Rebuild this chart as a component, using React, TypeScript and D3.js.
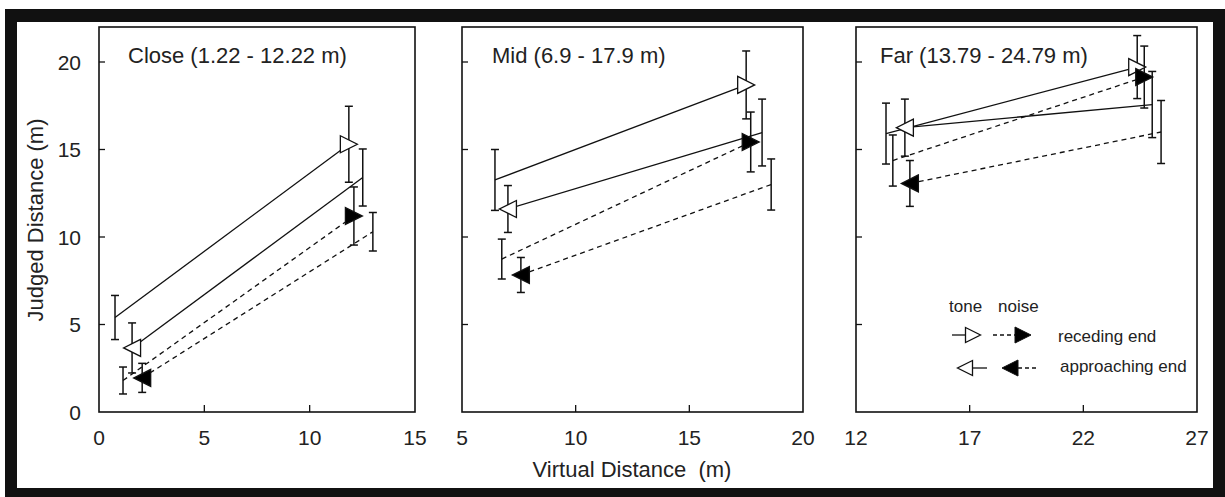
import React from "react";
import * as d3 from "d3";

const panelTitles = ["Close (1.22 - 12.22 m)", "Mid (6.9 - 17.9 m)", "Far (13.79 - 24.79 m)"];
const xDomains: [number, number][] = [[0, 15], [5, 20], [12, 27]];
const xTickValues = [[0, 5, 10, 15], [5, 10, 15, 20], [12, 17, 22, 27]];
const yTickValues = [0, 5, 10, 15, 20];
const yDomain: [number, number] = [0, 22];

// each row (one per panel): [xStart, yStart, errStart, xEnd, yEnd, errEnd]
const toneReceding = [
  [0.76, 5.4, 1.26, 11.86, 15.3, 2.17],
  [6.45, 13.26, 1.74, 17.5, 18.69, 1.94],
  [13.32, 15.91, 1.74, 24.37, 19.71, 1.8],
];
const toneApproaching = [
  [1.57, 3.66, 1.43, 12.52, 13.4, 1.63],
  [7.02, 11.6, 1.34, 18.2, 15.97, 1.91],
  [14.15, 16.25, 1.63, 25.03, 17.57, 1.89],
];
const noiseReceding = [
  [1.14, 1.8, 0.77, 12.1, 11.2, 1.66],
  [6.75, 8.74, 1.14, 17.7, 15.43, 1.71],
  [13.62, 14.37, 1.46, 24.68, 19.14, 1.77],
];
const noiseApproaching = [
  [2.05, 1.95, 0.83, 13.0, 10.3, 1.1],
  [7.59, 7.83, 1.0, 18.6, 13.0, 1.46],
  [14.37, 13.06, 1.31, 25.42, 16.0, 1.8],
];

const legendHeader = ["tone", "noise"];
const legendLabels = ["receding end", "approaching end"];

const W = 1225;
const H = 497;
const panelLeft = [99, 462, 856];
const panelRight = [415, 803, 1197];
const titleOffset = [29, 30, 24];
const plotTop = 27;
const plotBottom = 412;
const FONT = "'Liberation Sans', Arial, Helvetica, sans-serif";
const TXT = "#222";

type Series = { data: number[][]; dashed: boolean; filled: boolean; markerAtEnd: boolean; dir: 1 | -1 };
const seriesList: Series[] = [
  { data: toneReceding, dashed: false, filled: false, markerAtEnd: true, dir: 1 },
  { data: toneApproaching, dashed: false, filled: false, markerAtEnd: false, dir: -1 },
  { data: noiseReceding, dashed: true, filled: true, markerAtEnd: true, dir: 1 },
  { data: noiseApproaching, dashed: true, filled: true, markerAtEnd: false, dir: -1 },
];

function triPath(cx: number, cy: number, dir: number, w: number, h: number) {
  const b = cx - (dir * w) / 2;
  const t = cx + (dir * w) / 2;
  return `M${b},${cy - h / 2}L${t},${cy}L${b},${cy + h / 2}Z`;
}

function Panel({ i }: { i: number }) {
  const x = d3.scaleLinear().domain(xDomains[i]).range([panelLeft[i], panelRight[i]]);
  const y = d3.scaleLinear().domain(yDomain).range([plotBottom, plotTop]);
  const line = d3.line<[number, number]>().x((d) => x(d[0])).y((d) => y(d[1]));
  const cap = 4;
  return (
    <g>
      <rect x={panelLeft[i]} y={plotTop} width={panelRight[i] - panelLeft[i]} height={plotBottom - plotTop}
        fill="none" stroke="#111" strokeWidth={1.6} />
      {yTickValues.slice(1).map((t) => (
        <line key={"yt" + t} x1={panelLeft[i]} x2={panelLeft[i] + 6} y1={y(t)} y2={y(t)} stroke="#111" strokeWidth={1.3} />
      ))}
      {xTickValues[i].slice(1, -1).map((t) => (
        <line key={"xt" + t} x1={x(t)} x2={x(t)} y1={plotBottom} y2={plotBottom - 7} stroke="#111" strokeWidth={1.3} />
      ))}
      {xTickValues[i].map((t) => (
        <text key={"xl" + t} x={x(t)} y={445} textAnchor="middle" fontSize={21} fontFamily={FONT} fill={TXT}>{t}</text>
      ))}
      {i === 0 && yTickValues.map((t) => (
        <text key={"yl" + t} x={81} y={y(t)} dy="0.36em" textAnchor="end" fontSize={21} fontFamily={FONT} fill={TXT}>{t}</text>
      ))}
      <text x={panelLeft[i] + titleOffset[i]} y={63} fontSize={22} fontFamily={FONT} fill={TXT}>
        {panelTitles[i]}
      </text>
      {seriesList.map((s, k) => {
        const d = s.data[i];
        return (
          <path key={"l" + k} d={line([[d[0], d[1]], [d[3], d[4]]]) || ""} fill="none" stroke="#111"
            strokeWidth={1.3} strokeDasharray={s.dashed ? "5,4" : undefined} />
        );
      })}
      {seriesList.map((s, k) => {
        const d = s.data[i];
        const pts = [[d[0], d[1], d[2]], [d[3], d[4], d[5]]];
        return pts.map((p, j) => (
          <g key={"e" + k + j} stroke="#111" strokeWidth={1.5}>
            <line x1={x(p[0])} x2={x(p[0])} y1={y(p[1] - p[2])} y2={y(p[1] + p[2])} />
            <line x1={x(p[0]) - cap} x2={x(p[0]) + cap} y1={y(p[1] - p[2])} y2={y(p[1] - p[2])} />
            <line x1={x(p[0]) - cap} x2={x(p[0]) + cap} y1={y(p[1] + p[2])} y2={y(p[1] + p[2])} />
          </g>
        ));
      })}
      {seriesList.map((s, k) => {
        const d = s.data[i];
        const px = s.markerAtEnd ? d[3] : d[0];
        const py = s.markerAtEnd ? d[4] : d[1];
        return (
          <path key={"m" + k} d={triPath(x(px), y(py), s.dir, 17, 17)} fill={s.filled ? "#000" : "#fff"}
            stroke="#111" strokeWidth={1.3} strokeLinejoin="miter" />
        );
      })}
    </g>
  );
}

function Legend() {
  const rowY = [335, 368];
  return (
    <g fontFamily={FONT} fill={TXT}>
      <text x={949} y={312} fontSize={17}>{legendHeader[0]}</text>
      <text x={998} y={312} fontSize={17}>{legendHeader[1]}</text>
      <line x1={952} x2={966} y1={rowY[0]} y2={rowY[0]} stroke="#111" strokeWidth={1.3} />
      <path d={triPath(973, rowY[0], 1, 15, 15)} fill="#fff" stroke="#111" strokeWidth={1.3} />
      <line x1={993} x2={1016} y1={rowY[0]} y2={rowY[0]} stroke="#111" strokeWidth={1.3} strokeDasharray="4,3" />
      <path d={triPath(1023, rowY[0], 1, 16, 16)} fill="#000" stroke="#111" strokeWidth={1} />
      <text x={1058} y={342} fontSize={17}>{legendLabels[0]}</text>
      <path d={triPath(965, rowY[1], -1, 15, 15)} fill="#fff" stroke="#111" strokeWidth={1.3} />
      <line x1={972} x2={987} y1={rowY[1]} y2={rowY[1]} stroke="#111" strokeWidth={1.3} />
      <path d={triPath(1010, rowY[1], -1, 16, 16)} fill="#000" stroke="#111" strokeWidth={1} />
      <line x1={1018} x2={1039} y1={rowY[1]} y2={rowY[1]} stroke="#111" strokeWidth={1.3} strokeDasharray="4,3" />
      <text x={1060} y={372} fontSize={17}>{legendLabels[1]}</text>
    </g>
  );
}

export default function App() {
  return (
    <div style={{ position: "absolute", left: 0, top: 0 }}>
      <svg width={W} height={H} style={{ display: "block" }}>
        <rect x={0} y={0} width={W} height={H} fill="#fff" />
        <rect x={5} y={9} width={W - 5} height={H - 9} fill="#111" />
        <rect x={17} y={22} width={1213 - 17} height={488 - 22} fill="#fff" />
        {[0, 1, 2].map((i) => (
          <Panel key={i} i={i} />
        ))}
        <Legend />
        <text x={632} y={477} textAnchor="middle" fontSize={22} fontFamily={FONT} fill={TXT} style={{ whiteSpace: "pre" }}>
          {"Virtual Distance  (m)"}
        </text>
        <text transform="translate(43,220) rotate(-90)" textAnchor="middle" fontSize={22} fontFamily={FONT} fill={TXT}>
          Judged Distance (m)
        </text>
      </svg>
    </div>
  );
}
